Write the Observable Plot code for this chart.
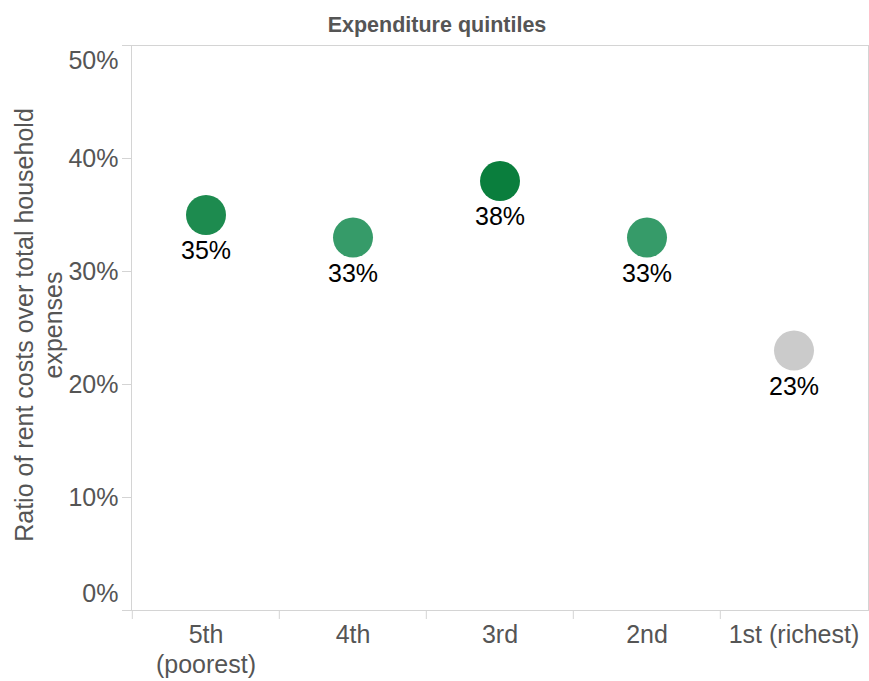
<!DOCTYPE html>
<html>
<head>
<meta charset="utf-8">
<script src="https://cdn.jsdelivr.net/npm/d3@7"></script>
<script src="https://cdn.jsdelivr.net/npm/@observablehq/plot@0.6"></script>
<style>
  html, body { margin: 0; padding: 0; background: #fff; }
</style>
</head>
<body>
<div id="chart"></div>
<script>
const categories = ["5th\n(poorest)", "4th", "3rd", "2nd", "1st (richest)"];
const values = [35, 33, 38, 33, 23];
const yTicks = [0, 10, 20, 30, 40, 50];
const title = "Expenditure quintiles";
const yTitle = "Ratio of rent costs over total household\nexpenses";

const data = categories.map((c, i) => ({category: c, value: values[i]}));
const fmt = d => d + "%";
const bandHalf = (869 - 131 - 1) / categories.length / 2;
const axisColor = "#555";
const lineColor = "#d4d4d4";

const chart = Plot.plot({
  width: 869,
  height: 681,
  marginTop: 45,
  marginBottom: 71,
  marginLeft: 131,
  marginRight: 1,
  style: {fontFamily: "'Liberation Sans', Arial, sans-serif", fontSize: "25px", background: "#fff"},
  x: {type: "band", domain: categories, padding: 0, label: null},
  y: {domain: [0, 50], label: null},
  color: {domain: categories, range: ["#1d8b4f", "#369b69", "#0a7e3d", "#369b69", "#cbcbcb"]},
  marks: [
    Plot.frame({stroke: lineColor}),
    // y tick lines
    Plot.axisY({ticks: yTicks, tickSize: 9, stroke: lineColor, tickFormat: () => "", label: null}),
    // y tick labels (middle)
    Plot.axisY({ticks: yTicks.slice(1, -1), tickSize: 0, tickPadding: 13, tickFormat: fmt, fill: axisColor, label: null}),
    Plot.axisY({ticks: yTicks.slice(-1), tickSize: 0, tickPadding: 13, tickFormat: fmt, fill: axisColor, dy: 15, label: null}),
    Plot.axisY({ticks: yTicks.slice(0, 1), tickSize: 0, tickPadding: 13, tickFormat: fmt, fill: axisColor, dy: -17, label: null}),
    // x boundary ticks
    Plot.axisX({tickSize: 9, stroke: lineColor, dx: -bandHalf, tickFormat: () => "", label: null}),
    // x labels
    Plot.axisX({tickSize: 0, tickPadding: 11, fill: axisColor, lineHeight: 1.2, label: null}),
    // dots
    Plot.dot(data, {x: "category", y: "value", r: 20, fill: "category"}),
    Plot.text(data, {x: "category", y: "value", text: d => fmt(d.value), dy: 36, fill: "#000"}),
    // title
    Plot.text([title], {frameAnchor: "top", dy: -29, dx: -63, fontWeight: "bold", fontSize: 21.5, fill: axisColor}),
    // y title
    Plot.text([yTitle], {frameAnchor: "left", textAnchor: "middle", dx: -93.5, dy: -3, rotate: -90, lineHeight: 1.16, fill: axisColor})
  ]
});
document.getElementById("chart").appendChild(chart);
</script>
</body>
</html>
